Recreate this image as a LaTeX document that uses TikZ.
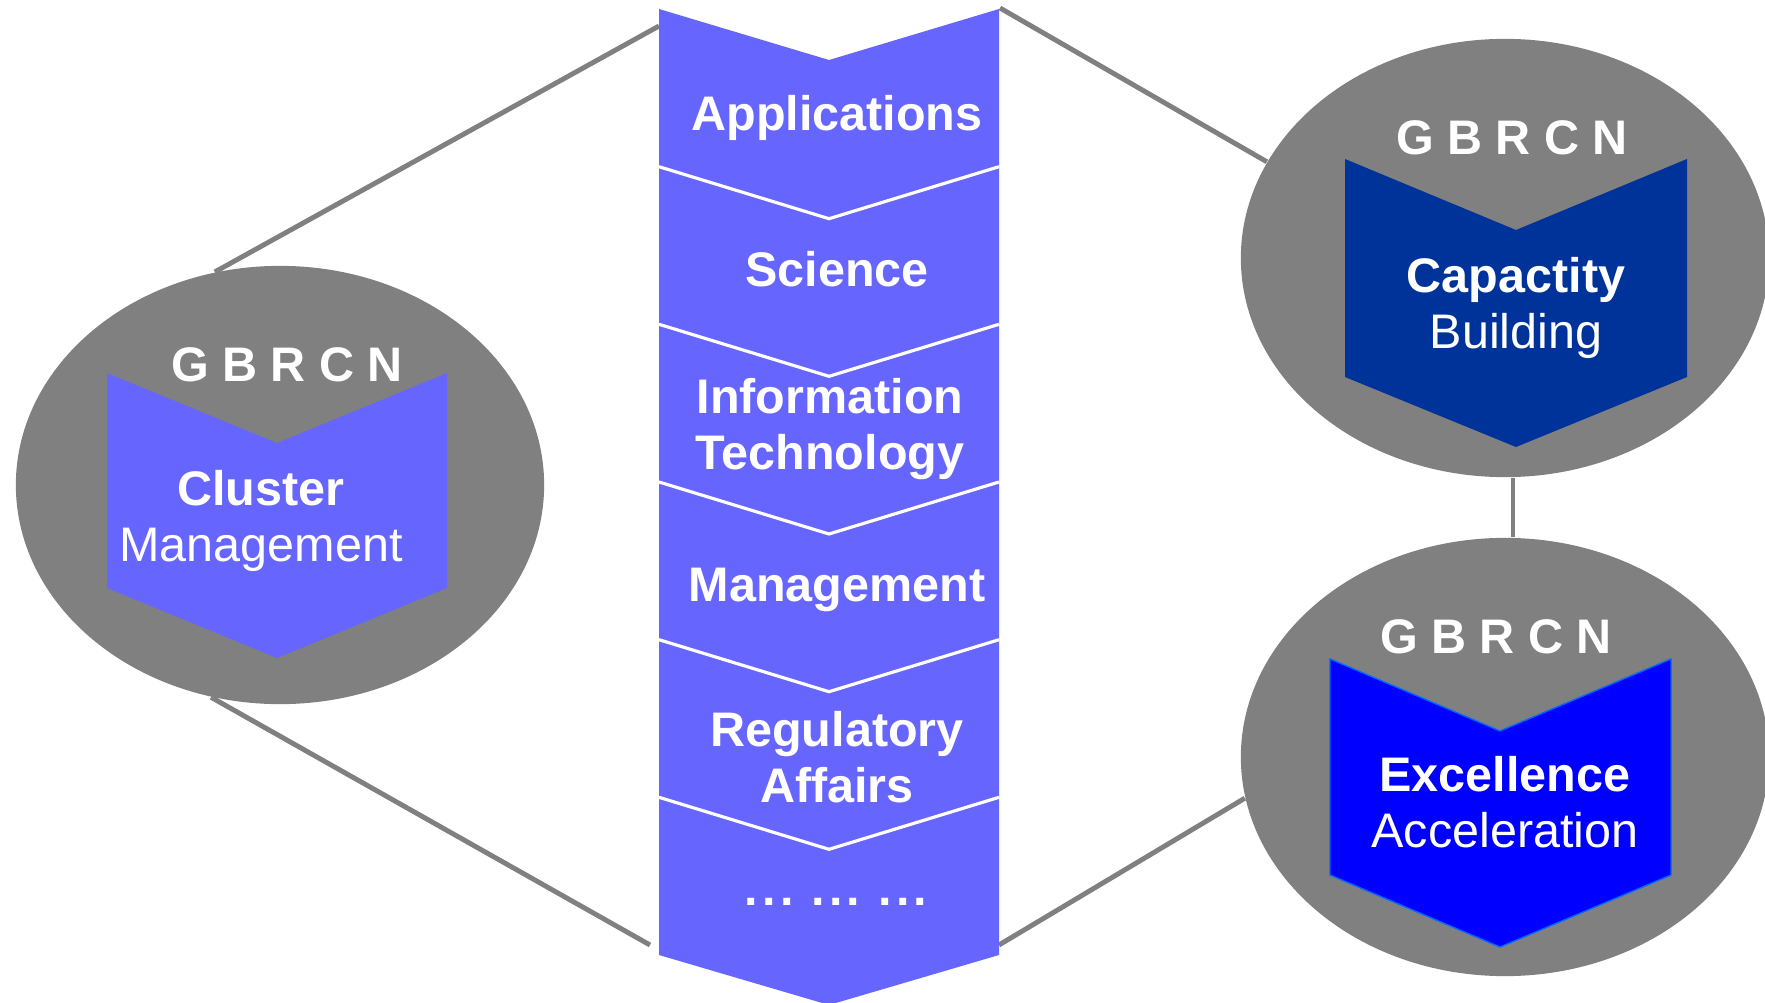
\documentclass[tikz,border=0pt]{standalone}
\usepackage{fontspec}
\setmainfont{Liberation Sans}
\usetikzlibrary{shapes.geometric}
\definecolor{gbgray}{RGB}{128,128,128}
\definecolor{gblilac}{RGB}{102,102,255}
\definecolor{gbnavy}{RGB}{0,51,153}
\definecolor{gbblue}{RGB}{0,0,255}
\definecolor{gbedge}{RGB}{0,102,255}

\begin{document}
\begin{tikzpicture}[x=0.01cm,y=-0.01cm,
   blob/.style={ellipse,fill=gbgray,minimum width=5.28cm,minimum height=4.38cm,inner sep=0pt},
   link/.style={gbgray,line width=1.4pt},
   lbl/.style={text=white,inner sep=0pt,align=center,font=\fontsize{13.8}{15.9}\selectfont\bfseries}]
   \useasboundingbox (0,0) rectangle (1765,1003);
   % the three clusters
   \node[blob] (cm) at (280,485) {};
   \node[blob] (cb) at (1505,258) {};
   \node[blob] (ce) at (1505,757) {};
   % connectors to the column
   \coordinate (colnw) at (659,26);
   \coordinate (colsw) at (650,945);
   \coordinate (colne) at (1000,8);
   \coordinate (colse) at (999,945);
   \draw[link] (cm.107.5) -- (colnw);
   \draw[link] (cm.252.5) -- (colsw);
   \draw[link] (cb.158.2) -- (colne);
   \draw[link] (ce.189.4) -- (colse);
   \draw[link] ([xshift=0.08cm]cb.south) -- ([xshift=0.08cm]ce.north);
   % central column
   \fill[gblilac] (659,9) -- (829,60) -- (999,9) -- (999,955) -- (829,1005) -- (659,955) -- cycle;
   \foreach \y in {166.7,324.3,482,639.7,797.3}
      \draw[white,line width=0.9pt] (659,\y) -- (829,\y+52) -- (999,\y);
   % chevrons inside the clusters
   \fill[gblilac] (107,373) -- (277,443) -- (447,373) -- (447,588) -- (277,658) -- (107,588) -- cycle;
   \fill[gbnavy] (1345,159) -- (1516,230) -- (1687,159) -- (1687,377) -- (1516,447) -- (1345,377) -- cycle;
   \filldraw[fill=gbblue,draw=gbedge,line width=0.4pt] (1330,659) -- (1500,731) -- (1671,659) -- (1671,875) -- (1500,947) -- (1330,875) -- cycle;
   % texts
   \node[lbl] (ta) at (837,117.5) {Applications};
   \node[lbl] (ts) at (837,269.5) {Science};
   \node[lbl] (ti) at (830,429) {Information\\Technology};
   \node[lbl] (tg) at (837,589.5) {Management};
   \node[lbl] (tr) at (837,757.5) {Regulatory\\Affairs};
   \node[lbl] (td) at (836,902) {.\kern1.2pt.\kern1.2pt. .\kern1.2pt.\kern1.2pt. .\kern1.2pt.\kern1.2pt.};
   \node[lbl] (gm) at (287,365) {G B R C N};
   \node[lbl] (gb) at (1512,138) {G B R C N};
   \node[lbl] (ge) at (1496,637) {G B R C N};
   \node[lbl] (tm) at (261,521) {Cluster\\{\mdseries Management}};
   \node[lbl] (tb) at (1516,308) {Capactity\\{\mdseries Building}};
   \node[lbl] (te) at (1505,802) {Excellence\\{\mdseries Acceleration}};
\end{tikzpicture}
\end{document}
